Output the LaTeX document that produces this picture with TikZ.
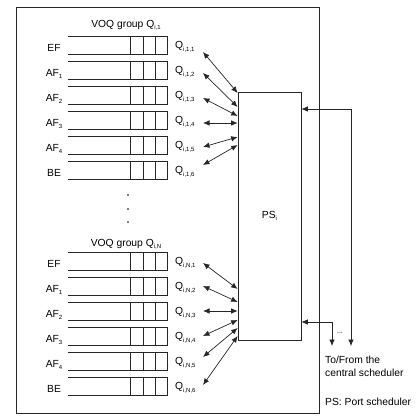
\documentclass[tikz,border=0pt]{standalone}
\usepackage{fontspec}
\setmainfont{Liberation Sans}
\usetikzlibrary{arrows.meta}
\newcommand{\lowsub}[1]{\raisebox{-2.6pt}{\fontsize{6}{6}\selectfont #1}}
\tikzset{
    EDGE/.style={draw=black!85, line width=0.7pt},
    ARROW/.style={EDGE, {Latex[length=6.5pt,width=5.5pt]}-{Latex[length=6.5pt,width=5.5pt]}},
    LABEL/.style={inner sep=0pt, font=\fontsize{10.3}{13.5}\selectfont},
    SMALL_DOT/.style={shape=circle, fill=black, inner sep=0pt, minimum size=1.6pt},
    BOX/.style={EDGE, shape=rectangle, inner sep=0pt},
    pics/QUEUE/.style={code={
        \draw[EDGE] (0,0) -- (99,0) -- (99,18) -- (0,18);
        \draw[EDGE] (62,0) -- (62,18) (75,0) -- (75,18) (87,0) -- (87,18);
    }}
}
\pgfdeclarelayer{edgelayer}
\pgfdeclarelayer{nodelayer}
\pgfsetlayers{edgelayer,nodelayer,main}

\begin{document}
\begin{tikzpicture}[x=1pt, y=-1pt]
    \useasboundingbox (0,0) rectangle (417,415);
    \begin{pgfonlayer}{nodelayer}
        \node [BOX, minimum width=302.5pt, minimum height=406pt] (frame) at (167.75,210) {};
        \node [BOX, LABEL, minimum width=63pt, minimum height=248pt] (ps) at (269.5,216) {PS\lowsub{i}};
        % first group
        \node [LABEL, anchor=base] (g1) at (126,27) {VOQ group Q\lowsub{i,1}};
        \node [LABEL, anchor=base] (c11) at (54,51) {EF};
        \node [LABEL, anchor=base] (c12) at (54,76) {AF\lowsub{1}};
        \node [LABEL, anchor=base] (c13) at (54,101) {AF\lowsub{2}};
        \node [LABEL, anchor=base] (c14) at (54,126) {AF\lowsub{3}};
        \node [LABEL, anchor=base] (c15) at (54,151) {AF\lowsub{4}};
        \node [LABEL, anchor=base] (c16) at (54,176) {BE};
        \node [LABEL, anchor=base west] (q11) at (175,48.5) {Q\lowsub{i,1,1}};
        \node [LABEL, anchor=base west] (q12) at (175,73.5) {Q\lowsub{i,1,2}};
        \node [LABEL, anchor=base west] (q13) at (175,98.5) {Q\lowsub{i,1,3}};
        \node [LABEL, anchor=base west] (q14) at (175,123.5) {Q\lowsub{i,1,4}};
        \node [LABEL, anchor=base west] (q15) at (175,148.5) {Q\lowsub{i,1,5}};
        \node [LABEL, anchor=base west] (q16) at (175,173.5) {Q\lowsub{i,1,6}};
        % dots
        \node [SMALL_DOT] (d1) at (128,195) {};
        \node [SMALL_DOT] (d2) at (128,209) {};
        \node [SMALL_DOT] (d3) at (128,222) {};
        % last group
        \node [LABEL, anchor=base] (gN) at (126,246) {VOQ group Q\lowsub{i,N}};
        \node [LABEL, anchor=base] (cN1) at (54,267) {EF};
        \node [LABEL, anchor=base] (cN2) at (54,292) {AF\lowsub{1}};
        \node [LABEL, anchor=base] (cN3) at (54,317) {AF\lowsub{2}};
        \node [LABEL, anchor=base] (cN4) at (54,342) {AF\lowsub{3}};
        \node [LABEL, anchor=base] (cN5) at (54,367) {AF\lowsub{4}};
        \node [LABEL, anchor=base] (cN6) at (54,392) {BE};
        \node [LABEL, anchor=base west] (qN1) at (175,264.5) {Q\lowsub{i,N,1}};
        \node [LABEL, anchor=base west] (qN2) at (175,289.5) {Q\lowsub{i,N,2}};
        \node [LABEL, anchor=base west] (qN3) at (175,314.5) {Q\lowsub{i,N,3}};
        \node [LABEL, anchor=base west] (qN4) at (175,339.5) {Q\lowsub{i,N,4}};
        \node [LABEL, anchor=base west] (qN5) at (175,364.5) {Q\lowsub{i,N,5}};
        \node [LABEL, anchor=base west] (qN6) at (175,389.5) {Q\lowsub{i,N,6}};
        % right side
        \node [LABEL, font=\fontsize{7}{7}\selectfont] (more) at (340,333) {...};
        \node [LABEL, anchor=west, align=left] (to) at (325,366.5) {To/From the\\central scheduler};
        \node [LABEL, anchor=west] (key) at (325,402) {PS: Port scheduler};
    \end{pgfonlayer}
    \begin{pgfonlayer}{edgelayer}
        \pic at (68,36) {QUEUE};
        \pic at (68,61) {QUEUE};
        \pic at (68,86) {QUEUE};
        \pic at (68,111) {QUEUE};
        \pic at (68,136) {QUEUE};
        \pic at (68,161) {QUEUE};
        \pic at (68,252) {QUEUE};
        \pic at (68,277) {QUEUE};
        \pic at (68,302) {QUEUE};
        \pic at (68,327) {QUEUE};
        \pic at (68,352) {QUEUE};
        \pic at (68,377) {QUEUE};
        \coordinate (t11) at (203,52);
        \coordinate (t12) at (203,73);
        \coordinate (t13) at (203,98);
        \coordinate (t14) at (203,123);
        \coordinate (t15) at (203,147);
        \coordinate (t16) at (203,165);
        \coordinate (tN1) at (203,263);
        \coordinate (tN2) at (203,286);
        \coordinate (tN3) at (203,311);
        \coordinate (tN4) at (203,336);
        \coordinate (tN5) at (203,357);
        \coordinate (tN6) at (203,385);
        \coordinate (out1) at (351,346);
        \coordinate (out2) at (332,346);
        \draw[ARROW] (t11) to (ps.west |- 0,93);
        \draw[ARROW] (t12) to (ps.west |- 0,107);
        \draw[ARROW] (t13) to (ps.west |- 0,116);
        \draw[ARROW] (t14) to (ps.west |- 0,123);
        \draw[ARROW] (t15) to (ps.west |- 0,137);
        \draw[ARROW] (t16) to (ps.west |- 0,145);
        \draw[ARROW] (tN1) to (ps.west |- 0,289);
        \draw[ARROW] (tN2) to (ps.west |- 0,302);
        \draw[ARROW] (tN3) to (ps.west |- 0,311);
        \draw[ARROW] (tN4) to (ps.west |- 0,320);
        \draw[ARROW] (tN5) to (ps.west |- 0,328);
        \draw[ARROW] (tN6) to (ps.west |- 0,336);
        \draw[ARROW] (out1) |- (ps.east |- 0,109);
        \draw[ARROW] (out2) |- (ps.east |- 0,322);
    \end{pgfonlayer}
\end{tikzpicture}
\end{document}
